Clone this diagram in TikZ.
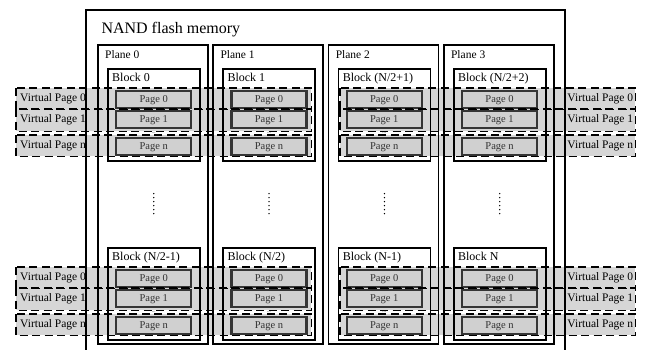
\documentclass[tikz,border=0pt]{standalone}
\usepackage{fontspec}
\setmainfont{Liberation Serif}
\usetikzlibrary{positioning}

\definecolor{bandgray}{HTML}{D6D6D6}
\definecolor{pagegray}{HTML}{D0D0D0}
\definecolor{pageline}{HTML}{353535}

\begin{document}
\begin{tikzpicture}[
        x=1pt, y=-1pt,
        boxline/.style={draw=black, line width=1.6pt},
        planebox/.style={boxline, minimum width=110pt, minimum height=299pt, inner sep=0pt},
        blockbox/.style={boxline, minimum width=92pt, minimum height=92pt, inner sep=0pt},
        pagebox/.style={draw=pageline, line width=2.4pt, fill=pagegray, minimum width=75pt, minimum height=17pt, inner sep=0pt, font=\fontsize{10.5}{10.5}\selectfont, text=black!80},
        vpband/.style={fill=bandgray, minimum width=295pt, inner sep=0pt},
        vpline/.style={draw=black, line width=1.8pt, dash pattern=on 8pt off 4.5pt},
        vplabel/.style={font=\fontsize{11.5}{12}\selectfont, inner sep=0pt},
        boxlabel/.style={anchor=north west, inner sep=0pt, font=\fontsize{12}{12}\selectfont}
    ]
    \useasboundingbox (0,0) rectangle (649,349);

    % virtual page bands
    \foreach \g/\dy in {T/0,B/179} {
        \foreach \r/\t/\h/\lab in {0/88/21/0, 1/109/22/1, n/135/21/n} {
            \node [vpband, minimum height=\h pt, anchor=north west] (VPL-\g-\r) at (16,\t+\dy) {};
            \node [vpband, minimum height=\h pt, anchor=north west] (VPR-\g-\r) at (340,\t+\dy) {};
            \node [vplabel, anchor=west] (VPLabelL-\g-\r) at ([xshift=4pt]VPL-\g-\r.west) {Virtual Page \lab};
            \node [vplabel, anchor=east] (VPLabelR-\g-\r) at ([xshift=-2pt]VPR-\g-\r.east) {Virtual Page \lab};
        }
    }

    % memory, planes, blocks
    \draw[boxline] (86,352) -- (86,10) -- (565,10) -- (565,352);
    \node [anchor=west, font=\fontsize{16}{16}\selectfont] (Nand) at (98,30) {NAND flash memory};

    \foreach \p/\top/\bot in {0/{Block 0}/{Block (N/2-1)}, 1/{Block 1}/{Block (N/2)}, 2/{Block (N/2+1)}/{Block (N-1)}, 3/{Block (N/2+2)}/{Block N}} {
        \node [planebox, anchor=north west] (Plane\p) at (97+115.3*\p,44) {};
        \node [boxlabel, font=\fontsize{11.5}{11.5}\selectfont] (PlaneLabel\p) at ([xshift=8pt,yshift=-6pt]Plane\p.north west) {Plane \p};
        \node [blockbox, anchor=north west] (Block-T-\p) at ([xshift=10pt,yshift=-24pt]Plane\p.north west) {};
        \node [blockbox, anchor=north west] (Block-B-\p) at ([xshift=10pt,yshift=-203pt]Plane\p.north west) {};
        \node [boxlabel] (BlockLabel-T-\p) at ([xshift=5pt,yshift=-5pt]Block-T-\p.north west) {\top};
        \node [boxlabel] (BlockLabel-B-\p) at ([xshift=5pt,yshift=-5pt]Block-B-\p.north west) {\bot};
        \draw[line width=1.5pt, line cap=round, dash pattern=on 0pt off 4pt] ([yshift=-32pt]Block-T-\p.south) -- ([yshift=-52pt]Block-T-\p.south);
        \foreach \g in {T,B} {
            \node [pagebox, anchor=north west] (Page-\g-\p-0) at ([xshift=8pt,yshift=-22pt]Block-\g-\p.north west) {Page 0};
            \node [pagebox, anchor=north west] (Page-\g-\p-1) at ([xshift=8pt,yshift=-42pt]Block-\g-\p.north west) {Page 1};
            \node [pagebox, anchor=north west] (Page-\g-\p-n) at ([xshift=8pt,yshift=-69pt]Block-\g-\p.north west) {Page n};
            \node [inner sep=0pt, font=\tiny] (Dots-\g-\p) at ([yshift=-4pt]Page-\g-\p-1.south) {...};
        }
    }

    % dashed outlines of the virtual pages
    \foreach \g in {T,B} {
        \foreach \r in {0,1,n} {
            \draw[vpline] (VPL-\g-\r.north west) rectangle (VPL-\g-\r.south east);
            \draw[vpline] (VPR-\g-\r.north west) rectangle (VPR-\g-\r.south east);
        }
    }

\end{tikzpicture}
\end{document}
